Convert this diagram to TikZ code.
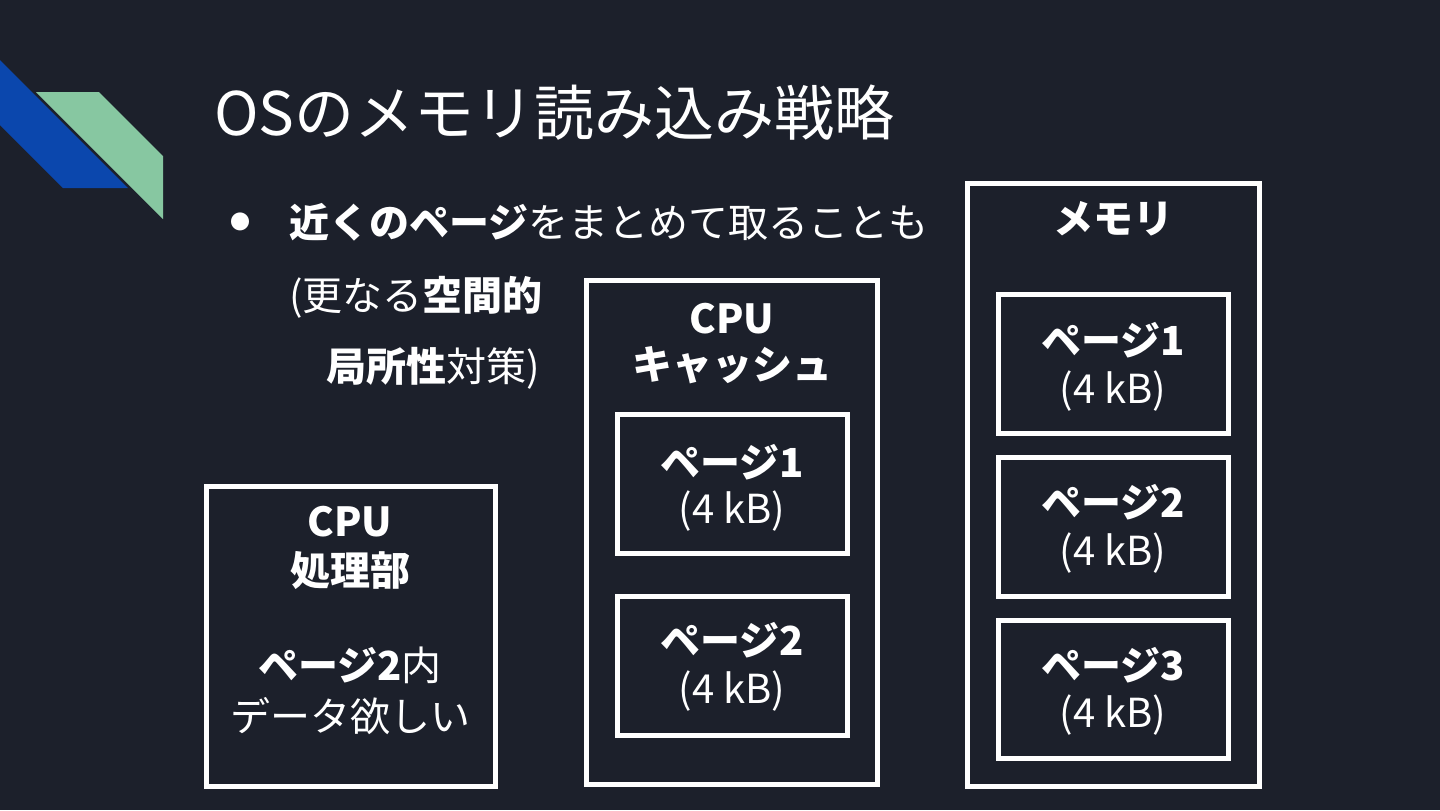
\documentclass[tikz,border=0pt]{standalone}
\usepackage{fontspec}
\setmainfont{Noto Sans CJK JP}
\usetikzlibrary{fit}
\definecolor{bgc}{RGB}{28,32,43}
\definecolor{blueshape}{RGB}{11,71,173}
\definecolor{greenshape}{RGB}{135,199,161}
\begin{document}
\begin{tikzpicture}[x=0.5pt,y=-0.5pt,
  box/.style={draw=white, line width=2.5pt, inner sep=0pt},
  lbl/.style={text=white, font=\fontsize{20pt}{23pt}\selectfont, anchor=base, inner sep=0pt},
  lblb/.style={text=white, font=\fontsize{20pt}{23pt}\selectfont\bfseries, anchor=base, inner sep=0pt},
  bodytext/.style={text=white, font=\fontsize{20pt}{24pt}\selectfont, anchor=base west, inner sep=0pt},
  titletext/.style={text=white, font=\fontsize{30pt}{36pt}\selectfont, anchor=base west, inner sep=0pt}]
\fill[bgc] (0,0) rectangle (1440,810);
\useasboundingbox (0,0) rectangle (1440,810);
% decoration
\fill[blueshape] (0,60) -- (128,188) -- (63,188) -- (0,125) -- cycle;
\fill[greenshape] (36,92) -- (99,92) -- (163,156) -- (163,219) -- cycle;
% title
\node[titletext] (title) at (214,135) {OSのメモリ読み込み戦略};
% bullet text
\node[text=white, font=\fontsize{10pt}{12pt}\selectfont, inner sep=0pt] (bullet) at (240,222) {●};
\node[bodytext] (line1) at (289,237) {\textbf{近くのページ}をまとめて取ることも};
\node[bodytext] (line2) at (289,310) {(更なる\textbf{空間的}};
\node[bodytext] (line3) at (326,381) {\textbf{局所性}対策)};
% CPU core box
\node[box, fit={(206,486) (495,786)}] (cpu) {};
\node[lblb] (cpu1) at (350,536) {CPU};
\node[lblb] (cpu2) at (350,585) {処理部};
\node[lblb] (cpu3) at (350,680) {ページ2\mdseries 内};
\node[lbl] (cpu4) at (350,731) {データ欲しい};
% CPU cache box
\node[box, fit={(586,280) (877,784)}] (cache) {};
\node[lblb] (cache1) at (732,333) {CPU};
\node[lblb] (cache2) at (732,379) {キャッシュ};
\node[box, fit={(617,414) (847,553)}] (cp1) {};
\node[lblb] (cp1a) at (732,477) {ページ1};
\node[lbl] (cp1b) at (732,523) {(4 kB)};
\node[box, fit={(617,596) (847,735)}] (cp2) {};
\node[lblb] (cp2a) at (732,655) {ページ2};
\node[lbl] (cp2b) at (732,703) {(4 kB)};
% memory box
\node[box, fit={(967,183) (1259,786)}] (mem) {};
\node[lblb] (mem0) at (1113,233) {メモリ};
\node[box, fit={(998,294) (1228,433)}] (mp1) {};
\node[lblb] (mp1a) at (1113,355) {ページ1};
\node[lbl] (mp1b) at (1113,403) {(4 kB)};
\node[box, fit={(998,457) (1228,596)}] (mp2) {};
\node[lblb] (mp2a) at (1113,517) {ページ2};
\node[lbl] (mp2b) at (1113,565) {(4 kB)};
\node[box, fit={(998,620) (1228,758)}] (mp3) {};
\node[lblb] (mp3a) at (1113,680) {ページ3};
\node[lbl] (mp3b) at (1113,727) {(4 kB)};
\end{tikzpicture}
\end{document}
